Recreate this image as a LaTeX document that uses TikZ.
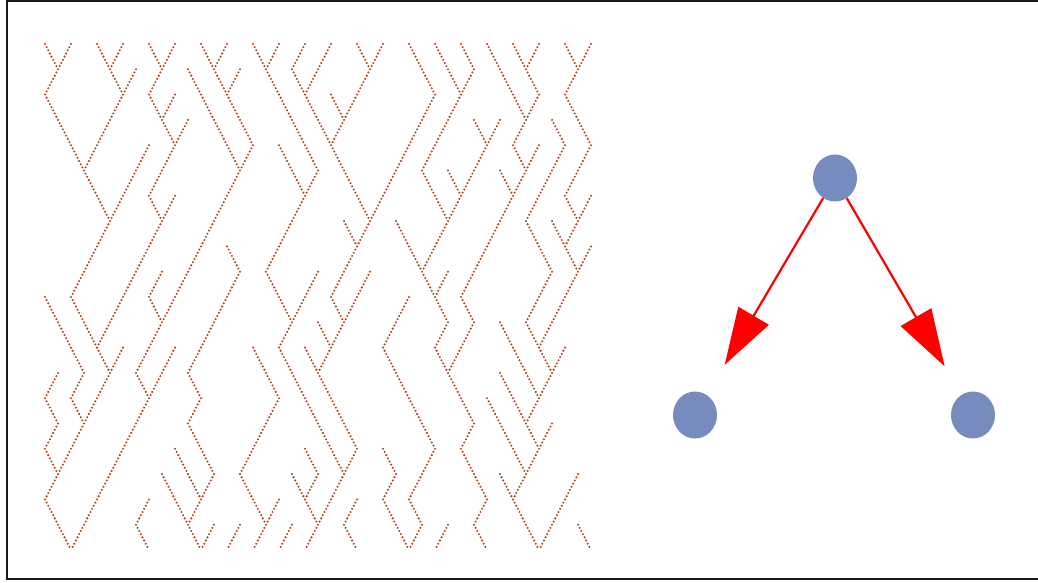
\documentclass[tikz,border=0pt]{standalone}
\usetikzlibrary{arrows.meta,shapes.geometric}
\definecolor{walkbrown}{RGB}{172,70,28}
\definecolor{vertexblue}{RGB}{119,139,191}
\definecolor{framegray}{RGB}{25,25,25}

\begin{document}
\begin{tikzpicture}[x=1pt,y=1pt,
  walkdot/.style={fill=walkbrown},
  vertex/.style={ellipse, fill=vertexblue, minimum width=44pt, minimum height=47pt, inner sep=0pt},
  flow/.style={red, line width=2.2pt, -{Triangle[length=57pt,width=35pt]}}]
\useasboundingbox (0,0) rectangle (1038,582);
\clip (0,0) rectangle (1038,582);
\draw[framegray, line width=2pt] (7,580.5) rectangle (1050,3);
% Coalescing walks on a parity lattice: site (i,j) with i+j even,
% one step = 13pt sideways and 25.3pt down. Every occupied site sends
% one edge down; walks that land on the same site merge.
\def\hx{13}      % sideways step
\def\vy{25.3}    % row step
\def\walkedge#1#2#3{%
  \foreach \k in {0,...,7}{
    \fill[walkdot] ({45+(#1+#3*\k/8)*\hx},{538-(#2+\k/8)*\vy}) circle (1.15pt);}}
\pgfmathsetseed{2291}
\foreach \j in {0,...,19}{
  \foreach \i in {0,...,42}{
    \pgfmathtruncatemacro\parity{mod(\i+\j,2)}
    \ifnum\parity=0
      \ifcsname in-\i-\j\endcsname
        \edef\inc{\csname in-\i-\j\endcsname}
      \else
        \def\inc{0}
      \fi
      \pgfmathsetmacro\u{rnd}
      \ifnum\inc=0
        \ifnum\j=0
          \pgfmathtruncatemacro\occ{\u<0.9}
        \else
          \pgfmathtruncatemacro\occ{\u<0.24}
        \fi
        \pgfmathtruncatemacro\dir{rnd<0.5 ? 1 : -1}
      \else
        \def\occ{1}
        \pgfmathtruncatemacro\dir{rnd<0.74 ? \inc : -1*(\inc)}
      \fi
      \ifnum\occ=1
        \pgfmathtruncatemacro\nx{\i+\dir}
        \ifnum\nx<0 \def\dir{1}\fi
        \ifnum\nx>42 \def\dir{-1}\fi
        \pgfmathtruncatemacro\nx{\i+\dir}
        \pgfmathtruncatemacro\ny{\j+1}
        \expandafter\xdef\csname in-\nx-\ny\endcsname{\dir}
        \walkedge{\i}{\j}{\dir}
      \fi
    \fi
  }
}
% the small graph
\node[vertex] (top) at (835,404) {};
\node[vertex] (left) at (695,167) {};
\node[vertex] (right) at (973,167) {};
\draw[flow, shorten >=35pt] (top) -- (left);
\draw[flow, shorten >=33pt] (top) -- (right);
\end{tikzpicture}
\end{document}
